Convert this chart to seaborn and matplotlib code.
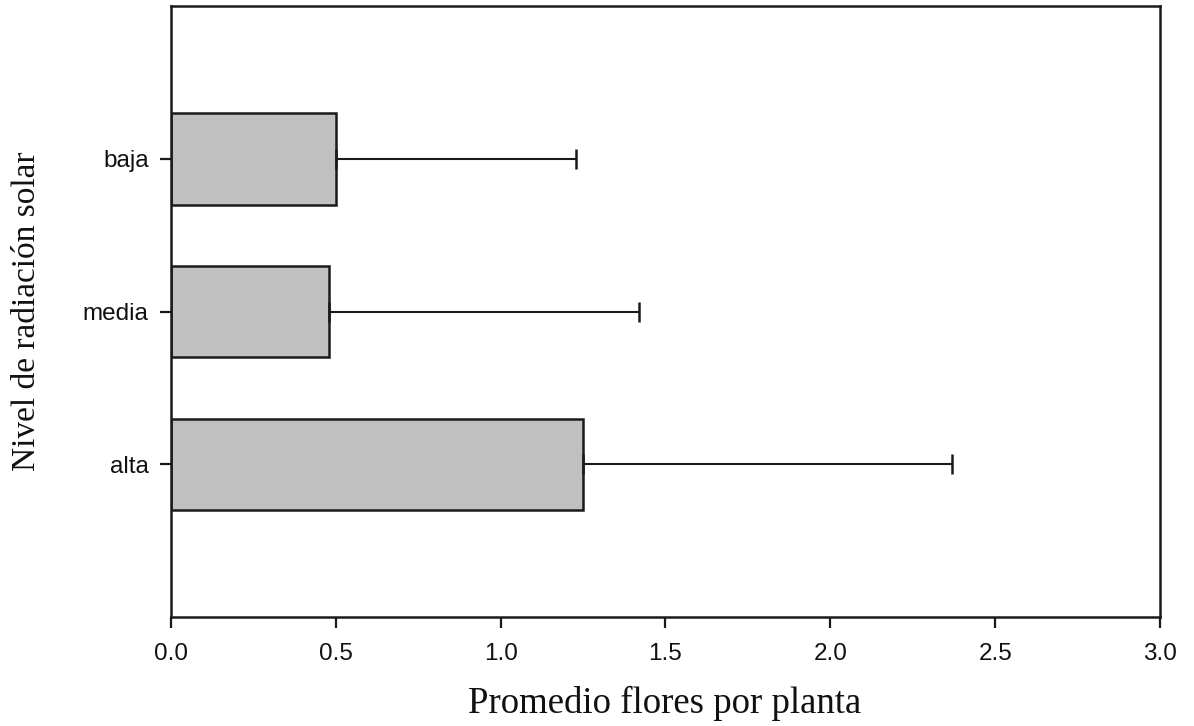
import matplotlib
matplotlib.use("Agg")
import matplotlib.pyplot as plt
import seaborn as sns
import pandas as pd

# Mean flowers per plant by solar radiation level, with upper error (SD)
niveles = ["baja", "media", "alta"]
promedio = [0.50, 0.48, 1.25]
error_sup = [0.73, 0.94, 1.12]
xticks = [0.0, 0.5, 1.0, 1.5, 2.0, 2.5, 3.0]

sns.set_theme(style="ticks")
plt.rcParams["font.family"] = ["Liberation Sans", "DejaVu Sans"]

df = pd.DataFrame({"nivel": niveles, "promedio": promedio})

fig = plt.figure(figsize=(11.94, 7.26), dpi=100)
ax = fig.add_axes([0.1432, 0.150, 0.9715 - 0.1432, 0.9917 - 0.150])

sns.barplot(data=df, x="promedio", y="nivel", order=niveles, orient="h",
            color="#c0c0c0", edgecolor="#1a1a1a", linewidth=1.8,
            width=0.6, errorbar=None, saturation=1, ax=ax)

# One-sided error bars (upper side only)
ax.errorbar(promedio, range(len(niveles)),
            xerr=[[0] * len(niveles), error_sup],
            fmt="none", ecolor="#1a1a1a", elinewidth=1.5,
            capsize=7, capthick=1.8)

ax.set_xlim(0, 3.0)
ax.set_ylim(3.0, -1.0)
ax.set_xticks(xticks)
ax.set_xticklabels([f"{t:.1f}" for t in xticks])

for s in ax.spines.values():
    s.set_visible(True)
    s.set_linewidth(1.8)
    s.set_color("#1a1a1a")

ax.tick_params(axis="both", direction="out", length=8, width=1.6,
               color="#1a1a1a", labelsize=17.5, labelcolor="#111111", pad=8)
ax.tick_params(axis="x", pad=11)

serif = ["Liberation Serif", "DejaVu Serif"]
ax.set_xlabel("Promedio flores por planta", fontsize=26.5, family=serif,
              color="#111111", va="center")
ax.set_ylabel("Nivel de radiación solar", fontsize=24, family=serif,
              color="#111111", va="center")
ax.xaxis.set_label_coords(0.4995, -0.141)
ax.yaxis.set_label_coords(-0.1456, 0.5)

fig.savefig("out.png", dpi=100, facecolor="white")
